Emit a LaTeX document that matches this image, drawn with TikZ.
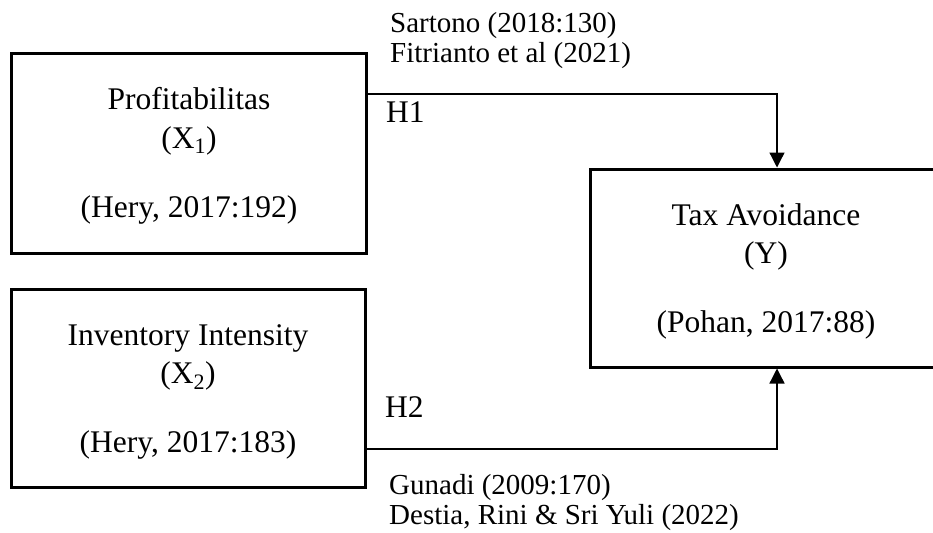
\documentclass[tikz,border=0pt]{standalone}
\usepackage{fontspec}
\setmainfont{Liberation Serif}
\usetikzlibrary{arrows.meta}
\begin{document}
\begin{tikzpicture}[x=1pt,y=-1pt,
  varbox/.style={draw,line width=3pt,inner sep=0pt},
  boxtxt/.style={anchor=base,inner sep=0pt,font=\fontsize{31.5}{36}\selectfont},
  reftxt/.style={anchor=base west,inner sep=0pt,font=\fontsize{29}{33}\selectfont},
  hyptxt/.style={anchor=base west,inner sep=0pt,font=\fontsize{31.5}{36}\selectfont},
  arr/.style={line width=1.3pt,-{Triangle[length=15pt,width=15pt]}}]
\useasboundingbox (0,0) rectangle (933,532);
% boxes
\node[varbox,minimum width=355pt,minimum height=199pt] (b1) at (188.5,153.5) {};
\node[varbox,minimum width=354pt,minimum height=198pt] (b2) at (188,388) {};
\node[varbox,minimum width=352pt,minimum height=198pt] (by) at (766,268) {};
% box texts
\node[boxtxt] (b1a) at (189,110) {Profitabilitas};
\node[boxtxt] (b1b) at (189,148) {(X\textsubscript{1})};
\node[boxtxt] (b1c) at (189,217) {(Hery, 2017:192)};
\node[boxtxt] (b2a) at (188,345) {Inventory Intensity};
\node[boxtxt] (b2b) at (188,383) {(X\textsubscript{2})};
\node[boxtxt] (b2c) at (188,452) {(Hery, 2017:183)};
\node[boxtxt] (bya) at (766,225) {Tax Avoidance};
\node[boxtxt] (byb) at (766,263) {(Y)};
\node[boxtxt] (byc) at (766,332) {(Pohan, 2017:88)};
% references and hypotheses
\node[reftxt] (r1a) at (390,33) {Sartono (2018:130)};
\node[reftxt] (r1b) at (390,63) {Fitrianto et al (2021)};
\node[hyptxt] (h1t) at (386,122) {H1};
\node[hyptxt] (h2t) at (385,417) {H2};
\node[reftxt] (r2a) at (389,494) {Gunadi (2009:170)};
\node[reftxt] (r2b) at (389,524) {Destia, Rini \& Sri Yuli (2022)};
% connectors
\coordinate (k1) at (777,94);
\coordinate (k2) at (777,449);
\draw[arr] (b1.east |- k1) -- (k1) -- (by.north -| k1);
\draw[arr] (b2.east |- k2) -- (k2) -- (by.south -| k2);
\end{tikzpicture}
\end{document}
